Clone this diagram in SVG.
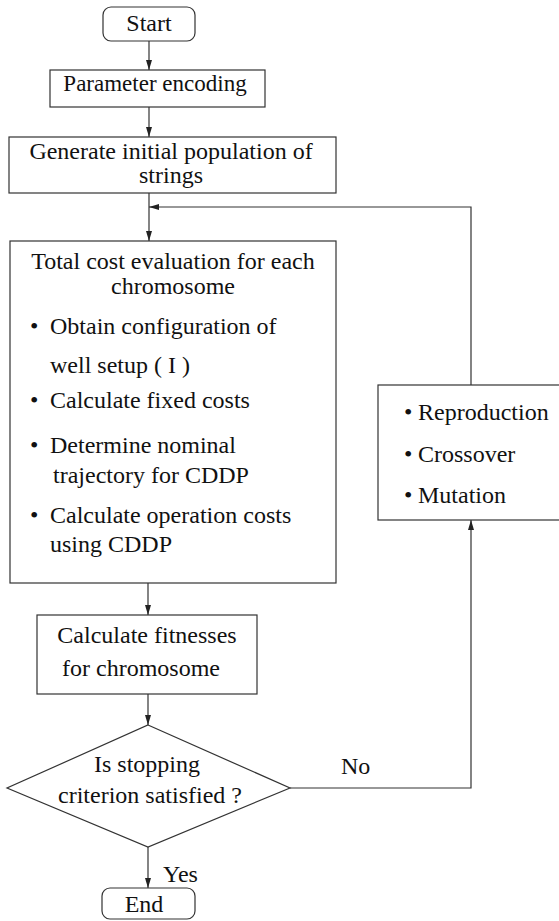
<svg xmlns="http://www.w3.org/2000/svg" width="559" height="921" viewBox="0 0 559 921" font-family="'Liberation Serif', 'Times New Roman', 'DejaVu Serif', serif">
<style>
text{font-family:'Liberation Serif','Times New Roman','DejaVu Serif',serif;font-size:24px;fill:#111}
.c{text-anchor:middle}
.box{fill:#fff;stroke:#333;stroke-width:1.2}
.ln{fill:none;stroke:#333;stroke-width:1.2}
</style>
<defs>
<marker id="ah" markerWidth="10" markerHeight="6" refX="10" refY="3" orient="auto" markerUnits="userSpaceOnUse">
<path d="M0,0 L10,3 L0,6 Z" fill="#222"/>
</marker>
</defs>
<g id="connectors">
<line class="ln" x1="149" y1="41" x2="149" y2="70" marker-end="url(#ah)"/>
<line class="ln" x1="149" y1="107" x2="149" y2="137" marker-end="url(#ah)"/>
<line class="ln" x1="149" y1="193" x2="149" y2="241" marker-end="url(#ah)"/>
<polyline class="ln" points="471,385 471,207 149,207" marker-end="url(#ah)"/>
<line class="ln" x1="148" y1="583" x2="148" y2="615" marker-end="url(#ah)"/>
<line class="ln" x1="148" y1="694" x2="148" y2="725" marker-end="url(#ah)"/>
<polyline class="ln" points="290,788 471,788 471,520" marker-end="url(#ah)"/>
<line class="ln" x1="148" y1="847" x2="148" y2="888" marker-end="url(#ah)"/>
<text x="341" y="774">No</text>
<text x="163" y="882">Yes</text>
</g>
<g id="start">
<rect class="box" x="103" y="7" width="92" height="34" rx="8"/>
<text class="c" x="149" y="31">Start</text>
</g>
<g id="param">
<rect class="box" x="50" y="70" width="215" height="37"/>
<text class="c" x="155" y="91" style="font-size:23px">Parameter encoding</text>
</g>
<g id="generate">
<rect class="box" x="9" y="137" width="327" height="56"/>
<text class="c" x="171" y="159">Generate initial population of</text>
<text class="c" x="171" y="183">strings</text>
</g>
<g id="total">
<rect class="box" x="10" y="241" width="326" height="342"/>
<text class="c" x="173" y="269">Total cost  evaluation  for each</text>
<text class="c" x="173" y="294">chromosome</text>
<text x="30" y="334">•</text><text x="50" y="334">Obtain configuration  of</text>
<text x="50" y="373">well setup ( I )</text>
<text x="30" y="408">•</text><text x="50" y="408">Calculate fixed costs</text>
<text x="30" y="453">•</text><text x="50" y="453">Determine  nominal</text>
<text x="53" y="483">trajectory for CDDP</text>
<text x="30" y="523">•</text><text x="50" y="523">Calculate operation costs</text>
<text x="50" y="552">using CDDP</text>
</g>
<g id="operators">
<rect class="box" x="378" y="385" width="190" height="135"/>
<text x="404" y="420">•</text><text x="418" y="420">Reproduction</text>
<text x="404" y="462">•</text><text x="418" y="462">Crossover</text>
<text x="404" y="503">•</text><text x="418" y="503">Mutation</text>
</g>
<g id="fitness">
<rect class="box" x="37" y="615" width="220" height="79"/>
<text class="c" x="147" y="643">Calculate  fitnesses</text>
<text class="c" x="141" y="676">for chromosome</text>
</g>
<g id="decision">
<polygon class="box" points="148,725 290,788 148,847 7,788"/>
<text class="c" x="147" y="772">Is  stopping</text>
<text class="c" x="150" y="803">criterion satisfied ?</text>
</g>
<g id="end">
<rect class="box" x="102" y="888" width="93" height="31" rx="8"/>
<text class="c" x="144" y="912">End</text>
</g>
</svg>
